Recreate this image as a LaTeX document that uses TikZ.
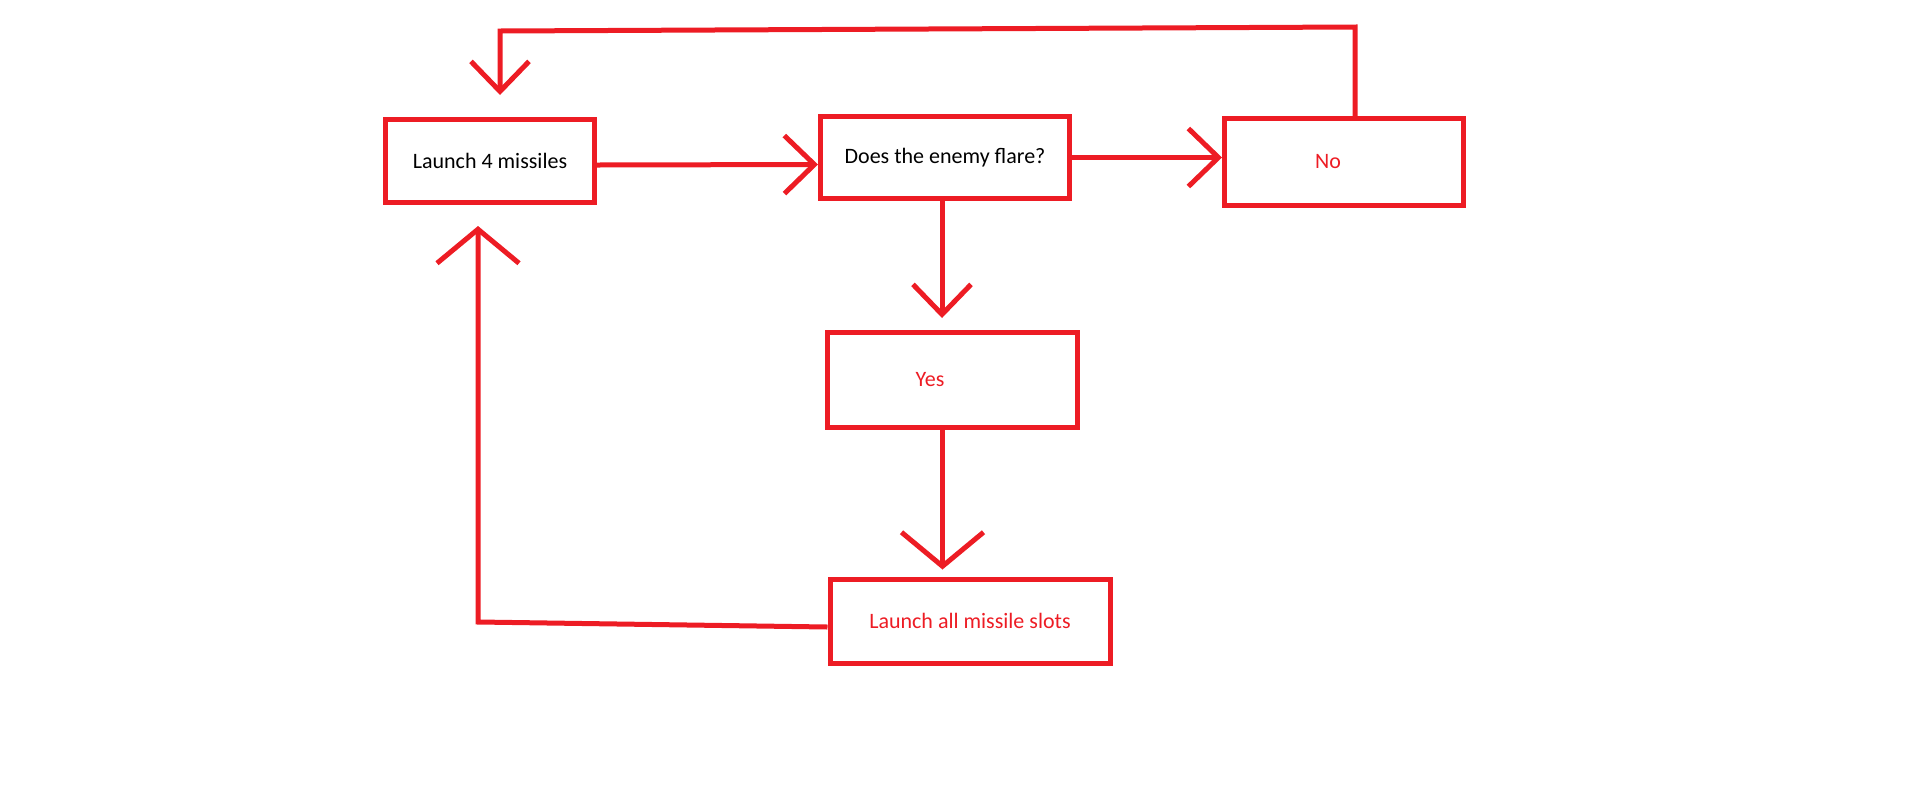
\documentclass[tikz,border=0pt]{standalone}
\usepackage{fontspec}
\setmainfont{Carlito}
\usepackage{xcolor}
\usepackage{tikz}
\usetikzlibrary{arrows.meta}
\definecolor{paintred}{HTML}{ED1C24}

\begin{document}
\begin{tikzpicture}[x=1pt, y=-1pt,
      box/.style={draw=paintred, line width=5pt, inner sep=0pt, align=center, font=\fontsize{22}{26}\selectfont},
      arrow/.style={-{Straight Barb[length=30pt, width=58pt]}, draw=paintred, line width=5pt},
      wide/.style={arrow, -{Straight Barb[length=34pt, width=82pt]}}]
    \useasboundingbox (0, 0) rectangle (1914, 807);
    \node[box, minimum width=209pt, minimum height=83pt] (launch) at (490, 161) {Launch 4 missiles};
    \node[box, minimum width=249pt, minimum height=82pt] (flare) at (945, 157.5) {Does the enemy flare?};
    \node[box, text=paintred, minimum width=239pt, minimum height=87pt] (no) at (1344, 162) {No\hspace*{32pt}};
    \node[box, text=paintred, minimum width=250pt, minimum height=95pt] (yes) at (952.5, 380) {Yes\hspace*{45pt}};
    \node[box, text=paintred, minimum width=280pt, minimum height=84pt] (slots) at (970, 621) {Launch all missile slots};
    \coordinate (loopR) at (1355, 27);
    \coordinate (loopL) at (500, 31);
    \coordinate (loopB) at (478, 622);
    \draw[arrow] ([yshift=-4pt]launch.east) -- ([yshift=-7pt]flare.west);
    \draw[arrow] (flare.east) -- (flare.east -| no.west);
    \draw[arrow, shorten >=12pt] ([xshift=-3pt]flare.south) -- ([xshift=-3pt]flare.south |- yes.north);
    \draw[wide, shorten >=7pt] ([xshift=-10pt]yes.south) -- ([xshift=-10pt]yes.south |- slots.north);
    \draw[wide, shorten >=21pt] ([yshift=-6pt]slots.west) -- (loopB) -- (launch.south -| loopB);
    \draw[arrow, shorten >=22pt] ([xshift=11pt]no.north) -- (loopR) -- (loopL) -- (launch.north -| loopL);
  \end{tikzpicture}
\end{document}
